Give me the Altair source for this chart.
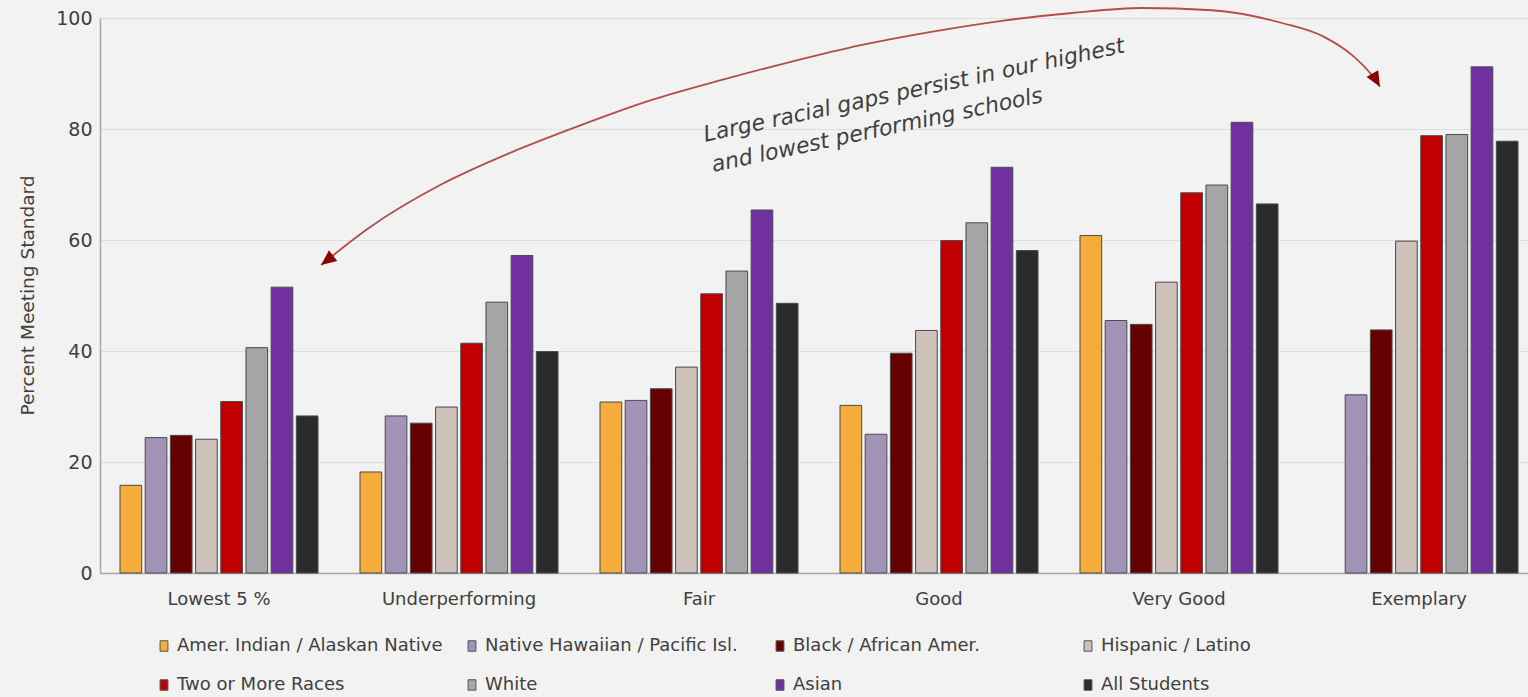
import altair as alt
import pandas as pd

# School performance tiers (x axis)
categories = ["Lowest 5 %", "Underperforming", "Fair", "Good", "Very Good", "Exemplary"]

# Student groups, in legend / bar order
groups = [
    "Amer. Indian / Alaskan Native",
    "Native Hawaiian / Pacific Isl.",
    "Black / African Amer.",
    "Hispanic / Latino",
    "Two or More Races",
    "White",
    "Asian",
    "All Students",
]
colors = ["#F4AC3C", "#A393B6", "#660000", "#CDC1B9", "#C00000", "#A6A6A6", "#7030A0", "#2B2B2B"]

# Percent meeting standard, one list per group across the tiers (None = not reported)
amer_indian = [15.8, 18.2, 30.8, 30.2, 60.8, None]
native_hawaiian = [24.4, 28.3, 31.1, 25.0, 45.5, 32.1]
black = [24.8, 27.0, 33.2, 39.6, 44.8, 43.8]
hispanic = [24.1, 29.9, 37.1, 43.7, 52.4, 59.8]
two_or_more = [30.9, 41.4, 50.3, 59.9, 68.5, 78.8]
white = [40.6, 48.8, 54.4, 63.1, 69.9, 79.0]
asian = [51.5, 57.2, 65.4, 73.1, 81.2, 91.2]
all_students = [28.3, 39.9, 48.6, 58.1, 66.5, 77.8]

series = [amer_indian, native_hawaiian, black, hispanic, two_or_more, white, asian, all_students]

rows = []
for g, vals in zip(groups, series):
    for c, v in zip(categories, vals):
        if v is not None:
            rows.append({"tier": c, "group": g, "value": v})
df = pd.DataFrame(rows)

# Curved double-headed callout, in (tier units, percent) coordinates
arc_u = [0.929, 1.134, 1.429, 1.723, 2.021, 2.315, 2.609, 2.903, 3.197, 3.492,
         3.790, 4.084, 4.378, 4.672, 4.966, 5.143, 5.261, 5.349, 5.378]
arc_p = [55.5, 62.3, 69.9, 75.7, 80.7, 85.2, 88.8, 92.1, 95.1, 97.5,
         99.5, 100.9, 101.8, 101.4, 99.1, 96.6, 93.3, 89.4, 87.6]
arc_df = pd.DataFrame({"u": arc_u, "value": arc_p, "order": list(range(len(arc_u)))})

head_u = [0.929, 5.378]
head_p = [55.5, 87.6]
head_angle = [232, 150]
head_df = pd.DataFrame({"u": head_u, "value": head_p, "ang": head_angle})

note_lines = ["Large racial gaps persist in our highest", "and lowest performing schools"]
note_u = [3.42, 3.265]
note_p = [87.0, 79.8]
note_df = pd.DataFrame({"u": note_u, "value": note_p, "txt": note_lines})

FONT = "DejaVu Sans"
TXT = "#404040"

y_scale = alt.Scale(domain=[0, 100], nice=False)
u_scale = alt.Scale(domain=[0, 6], nice=False, zero=False)

bars = alt.Chart(df).mark_bar(stroke="#4a4a4a", strokeWidth=1).encode(
    x=alt.X(
        "tier:N",
        sort=categories,
        scale=alt.Scale(paddingInner=0.175, paddingOuter=0.0625, align=0.667),
        axis=alt.Axis(
            title=None, labelAngle=0, ticks=False, labelPadding=17,
            labelFont=FONT, labelFontSize=18, labelColor=TXT,
            domainColor="#A6A6A6", domainWidth=1.5, grid=False,
        ),
    ),
    xOffset=alt.XOffset("group:N", sort=groups, scale=alt.Scale(paddingInner=0.14, paddingOuter=0)),
    y=alt.Y(
        "value:Q",
        scale=y_scale,
        axis=alt.Axis(
            title="Percent Meeting Standard", values=[0, 20, 40, 60, 80, 100],
            ticks=False, labelPadding=8, labelFont=FONT, labelFontSize=19,
            labelColor=TXT, domainColor="#A6A6A6", domainWidth=1.5,
            grid=True, gridColor="#DEDEDE", gridWidth=1.2,
            titleFont=FONT, titleFontSize=18.5, titleFontWeight="normal", titleColor=TXT,
            titleAngle=270, titleX=-73, titleY=277, titleAlign="center", titleBaseline="middle",
        ),
    ),
    color=alt.Color(
        "group:N",
        sort=groups,
        scale=alt.Scale(domain=groups, range=colors),
        legend=alt.Legend(
            title=None, orient="none", legendX=55, legendY=619, direction="horizontal",
            columns=4, gridAlign="all", columnPadding=20, rowPadding=21,
            symbolType="M-0.75,-1 L0.75,-1 L0.75,1 L-0.75,1 Z", symbolSize=110,
            symbolStrokeColor="#555555", symbolStrokeWidth=1, symbolOffset=0, labelOffset=4,
            labelFont=FONT, labelFontSize=18, labelColor=TXT, labelLimit=400,
        ),
    ),
)

arc = alt.Chart(arc_df).mark_line(color="#B44C4C", strokeWidth=1.8, interpolate="monotone").encode(
    x=alt.X("u:Q", scale=u_scale, axis=None),
    y=alt.Y("value:Q", scale=y_scale),
    order="order:Q",
)

heads = alt.Chart(head_df).mark_point(
    shape="M0,0 L-0.75,1.7 L0.75,1.7 Z", filled=True, color="#8B0000", size=320, opacity=1
).encode(
    x=alt.X("u:Q", scale=u_scale, axis=None),
    y=alt.Y("value:Q", scale=y_scale),
    angle=alt.Angle("ang:Q", scale=None),
)

note = alt.Chart(note_df).mark_text(
    font=FONT, fontSize=22, fontStyle="italic", color=TXT, angle=348, align="center", baseline="middle"
).encode(
    x=alt.X("u:Q", scale=u_scale, axis=None),
    y=alt.Y("value:Q", scale=y_scale),
    text="txt:N",
)

chart = alt.layer(bars, arc, heads, note).resolve_scale(x="independent").properties(
    width=1428,
    height=555,
    padding={"left": 100, "top": 18, "right": 0, "bottom": 124},
    autosize=alt.AutoSizeParams(type="none"),
    background="#F2F2F2",
).configure_view(stroke=None)

chart.save("out.html", embed_options={"renderer": "svg", "actions": False})
